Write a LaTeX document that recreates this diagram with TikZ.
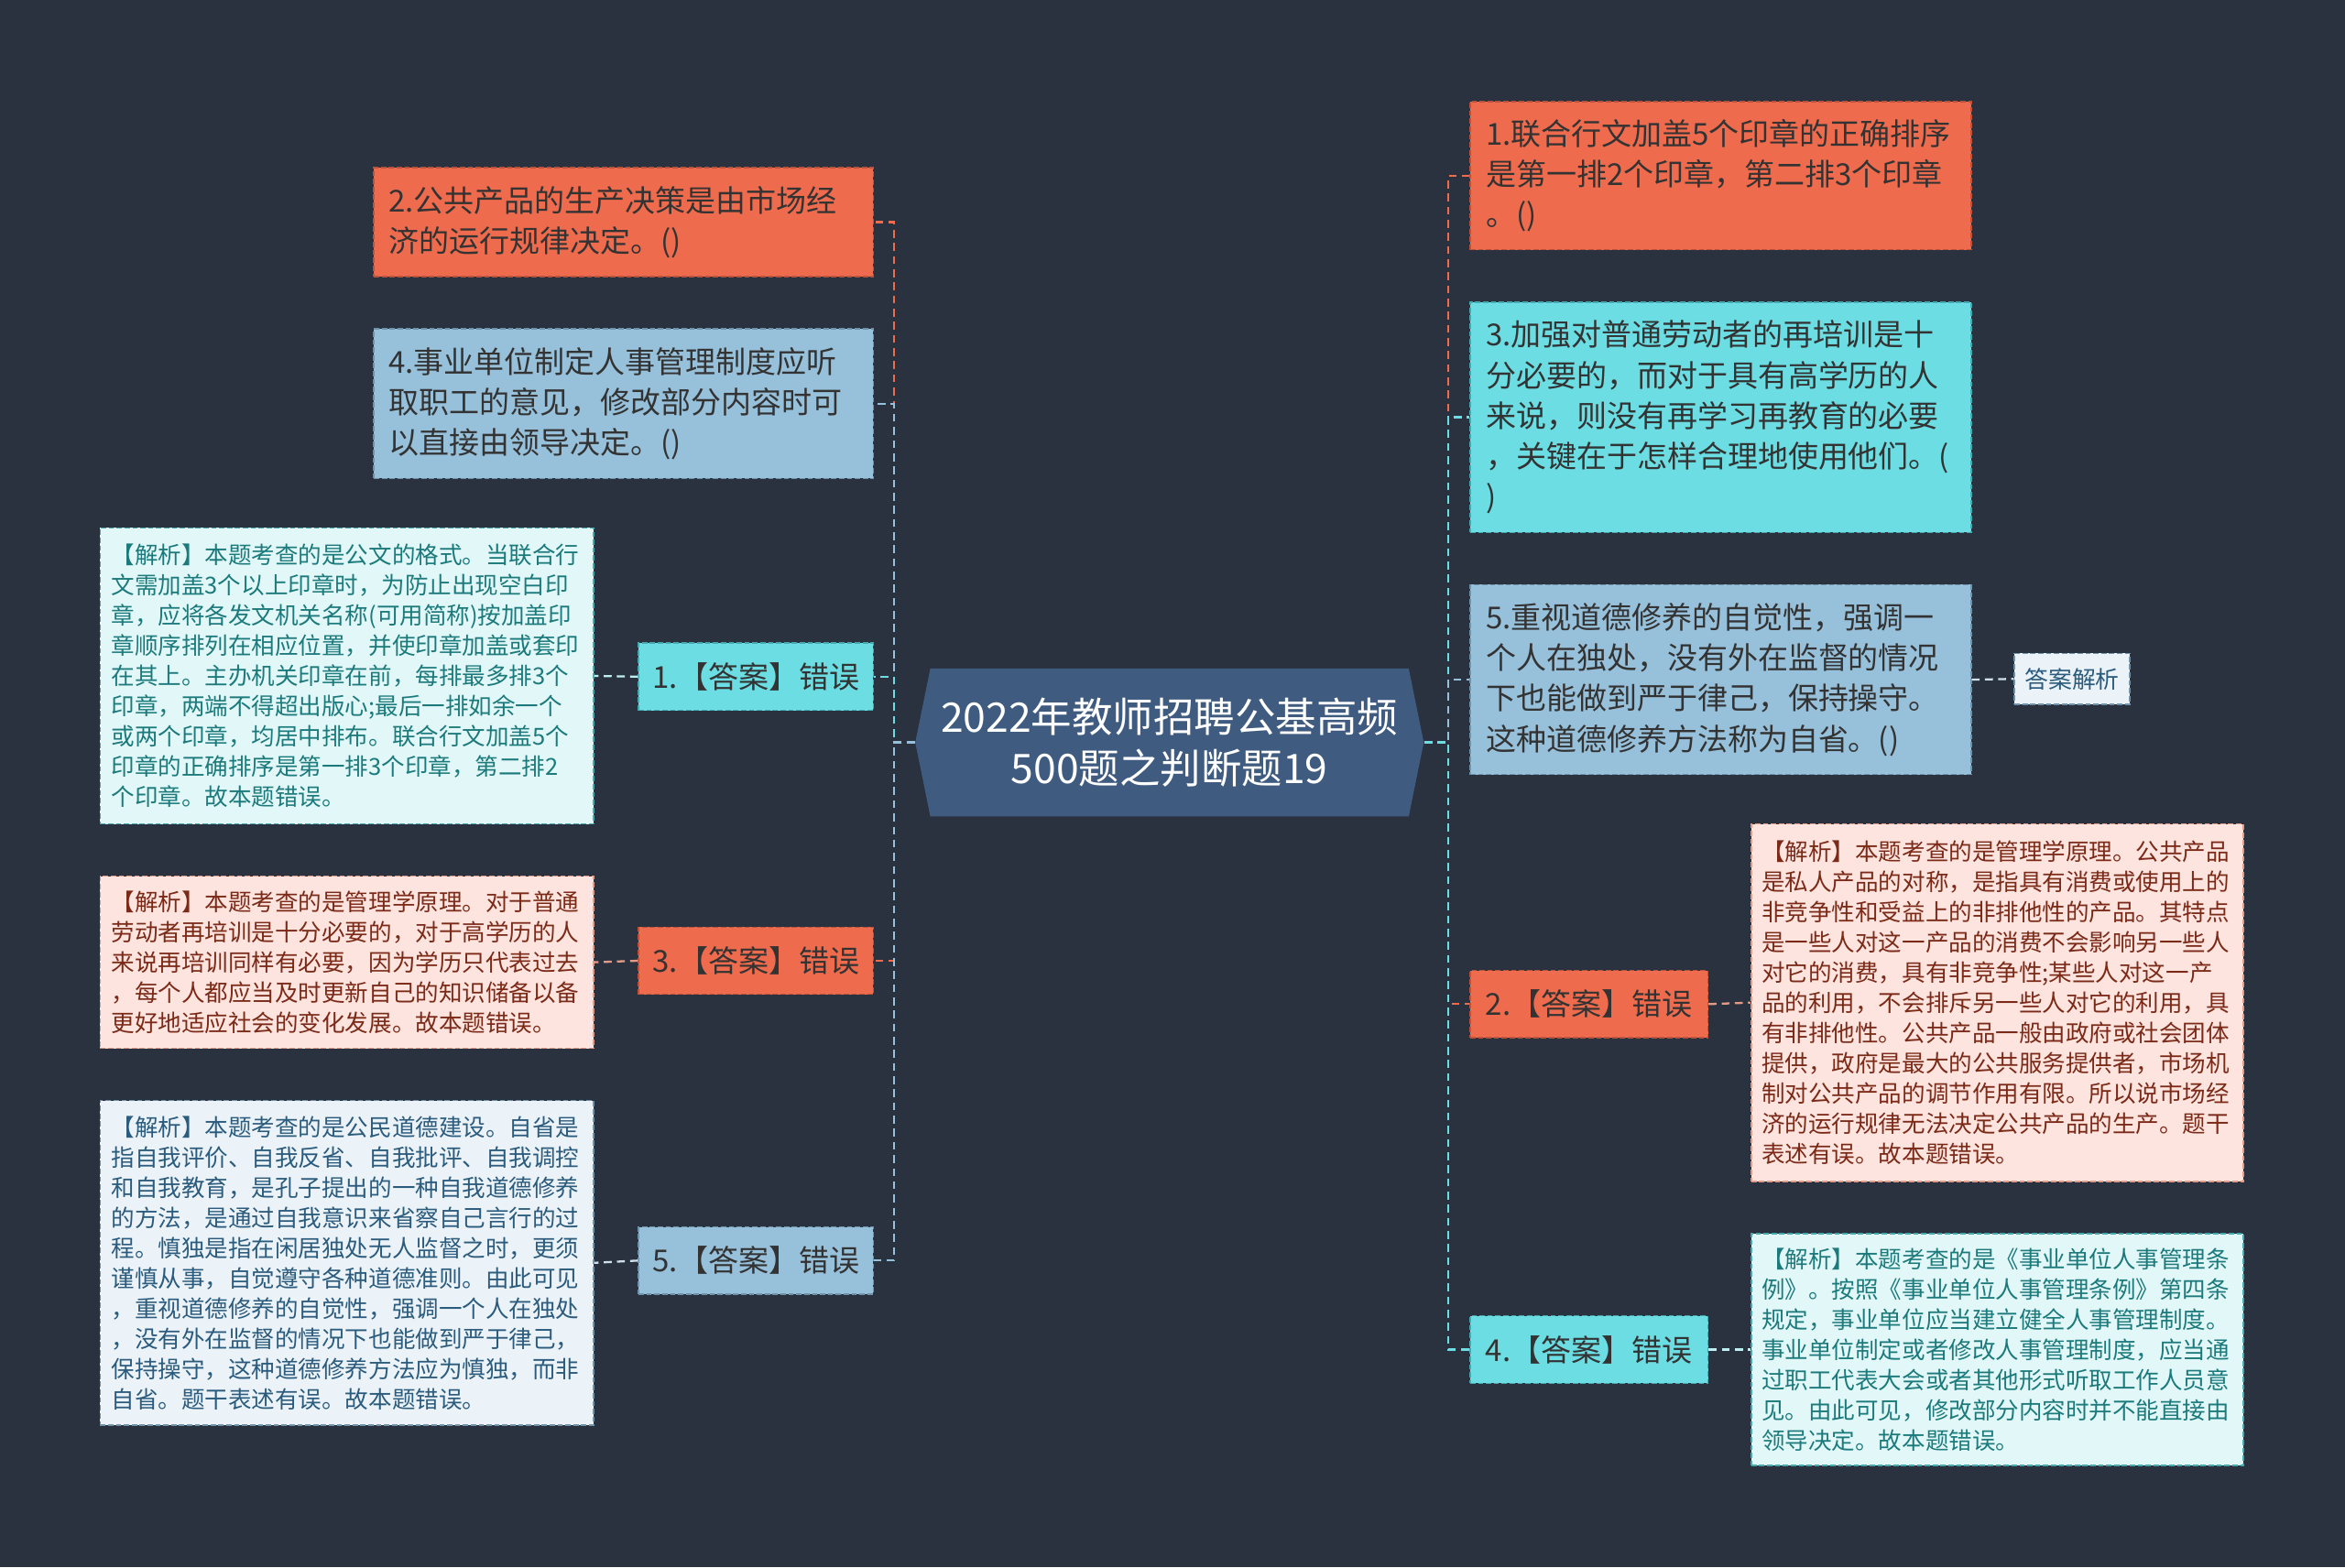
\documentclass[tikz,border=0pt]{standalone}
\usepackage{fontspec}
\setmainfont{Noto Sans CJK SC}
\usetikzlibrary{shapes.symbols}

\definecolor{bgcol}{HTML}{2A3240}
\definecolor{cOrange}{HTML}{EF6B4D}
\definecolor{dOrange}{HTML}{B9533C}
\definecolor{cCyan}{HTML}{6BDDE3}
\definecolor{dCyan}{HTML}{45A9B0}
\definecolor{cBlue}{HTML}{97C0DA}
\definecolor{dBlue}{HTML}{6F93AB}
\definecolor{cCenter}{HTML}{3F5C80}
\definecolor{xPink}{HTML}{FDE4DF}
\definecolor{xCyan}{HTML}{E2F8F8}
\definecolor{xBlue}{HTML}{EBF3F8}
\definecolor{tPink}{HTML}{7B2A18}
\definecolor{tCyan}{HTML}{1C7A7C}
\definecolor{tBlue}{HTML}{2B5B7D}
\definecolor{qtext}{HTML}{333333}
\definecolor{lPink}{HTML}{E39A86}
\definecolor{lCyan}{HTML}{BDEFF2}
\definecolor{lBlue}{HTML}{CFE0EC}

\tikzset{
  box/.style = {line width = 0.5pt, dash pattern = on 2pt off 1pt, inner sep = 0pt},
  qbox/.style = {box, minimum width = 66.8mm, text width = 62.8mm, align = left, text = qtext, font = \fontsize{11.5pt}{15.4pt}\selectfont},
  abox/.style = {box, minimum width = 31.4mm, minimum height = 9mm, align = center, text = qtext, font = \fontsize{11.5pt}{15.4pt}\selectfont},
  xbox/.style = {box, minimum width = 66mm, text width = 63mm, align = left, font = \fontsize{8.9pt}{11.5pt}\selectfont},
  ctrbox/.style = {shape = signal, signal to = west and east, signal pointer angle = 157, fill = cCenter, inner sep = 0pt, minimum width = 68mm, minimum height = 19.8mm, align = center, text = white, font = \fontsize{15.5pt}{19.4pt}\selectfont},
  lnk/.style = {line width = 0.8pt, dash pattern = on 3pt off 2pt}
}

\begin{document}
\begin{tikzpicture}[x = 0.2mm, y = -0.2mm]
\useasboundingbox[fill = bgcol] (0,0) rectangle (1568,1048);

\node[ctrbox] (ctr) at (782,496.5) {2022年教师招聘公基高频\\500题之判断题19};

\node[qbox, fill = cOrange, draw = dOrange, minimum height = 14.6mm] (l2) at (417,148.5) {2.公共产品的生产决策是由市场经\\济的运行规律决定。()};
\node[qbox, fill = cBlue, draw = dBlue, minimum height = 20mm] (l4) at (417,270) {4.事业单位制定人事管理制度应听\\取职工的意见，修改部分内容时可\\以直接由领导决定。()};
\node[abox, fill = cCyan, draw = dCyan] (l1a) at (505.5,452.5) {1.【答案】错误};
\node[abox, fill = cOrange, draw = dOrange] (l3a) at (505.5,642.5) {3.【答案】错误};
\node[abox, fill = cBlue, draw = dBlue] (l5a) at (505.5,843) {5.【答案】错误};

\node[xbox, fill = xCyan, draw = dCyan, text = tCyan, minimum height = 39.6mm] (l1x) at (232,452) {【解析】本题考查的是公文的格式。当联合行\\文需加盖3个以上印章时，为防止出现空白印\\章，应将各发文机关名称(可用简称)按加盖印\\章顺序排列在相应位置，并使印章加盖或套印\\在其上。主办机关印章在前，每排最多排3个\\印章，两端不得超出版心;最后一排如余一个\\或两个印章，均居中排布。联合行文加盖5个\\印章的正确排序是第一排3个印章，第二排2\\个印章。故本题错误。};
\node[xbox, fill = xPink, draw = lPink, text = tPink, minimum height = 23mm] (l3x) at (232,643.5) {【解析】本题考查的是管理学原理。对于普通\\劳动者再培训是十分必要的，对于高学历的人\\来说再培训同样有必要，因为学历只代表过去\\，每个人都应当及时更新自己的知识储备以备\\更好地适应社会的变化发展。故本题错误。};
\node[xbox, fill = xBlue, draw = dBlue, text = tBlue, minimum height = 43.4mm] (l5x) at (232,844.5) {【解析】本题考查的是公民道德建设。自省是\\指自我评价、自我反省、自我批评、自我调控\\和自我教育，是孔子提出的一种自我道德修养\\的方法，是通过自我意识来省察自己言行的过\\程。慎独是指在闲居独处无人监督之时，更须\\谨慎从事，自觉遵守各种道德准则。由此可见\\，重视道德修养的自觉性，强调一个人在独处\\，没有外在监督的情况下也能做到严于律己，\\保持操守，这种道德修养方法应为慎独，而非\\自省。题干表述有误。故本题错误。};

\node[qbox, fill = cOrange, draw = dOrange, minimum width = 67mm, minimum height = 19.8mm] (r1) at (1150.5,117.5) {1.联合行文加盖5个印章的正确排序\\是第一排2个印章，第二排3个印章\\。()};
\node[qbox, fill = cCyan, draw = dCyan, minimum width = 67mm, minimum height = 30.8mm] (r3) at (1150.5,279) {3.加强对普通劳动者的再培训是十\\分必要的，而对于具有高学历的人\\来说，则没有再学习再教育的必要\\，关键在于怎样合理地使用他们。(\\)};
\node[qbox, fill = cBlue, draw = dBlue, minimum width = 67mm, minimum height = 25.4mm] (r5) at (1150.5,454.5) {5.重视道德修养的自觉性，强调一\\个人在独处，没有外在监督的情况\\下也能做到严于律己，保持操守。\\这种道德修养方法称为自省。()};
\node[box, fill = xBlue, draw = dBlue, text = tBlue, minimum width = 15.4mm, minimum height = 6.8mm, font = \fontsize{9pt}{11pt}\selectfont] (r5x) at (1385.5,454) {答案解析};
\node[abox, fill = cOrange, draw = dOrange, minimum width = 31.8mm] (r2a) at (1062.5,671.5) {2.【答案】错误};
\node[abox, fill = cCyan, draw = dCyan, minimum width = 31.8mm] (r4a) at (1062.5,902.5) {4.【答案】错误};

\node[xbox, fill = xPink, draw = lPink, text = tPink, minimum width = 65.8mm, minimum height = 47.8mm] (r2x) at (1335.5,670.5) {【解析】本题考查的是管理学原理。公共产品\\是私人产品的对称，是指具有消费或使用上的\\非竞争性和受益上的非排他性的产品。其特点\\是一些人对这一产品的消费不会影响另一些人\\对它的消费，具有非竞争性;某些人对这一产\\品的利用，不会排斥另一些人对它的利用，具\\有非排他性。公共产品一般由政府或社会团体\\提供，政府是最大的公共服务提供者，市场机\\制对公共产品的调节作用有限。所以说市场经\\济的运行规律无法决定公共产品的生产。题干\\表述有误。故本题错误。};
\node[xbox, fill = xCyan, draw = dCyan, text = tCyan, minimum width = 65.8mm, minimum height = 31mm] (r4x) at (1335.5,902.5) {【解析】本题考查的是《事业单位人事管理条\\例》。按照《事业单位人事管理条例》第四条\\规定，事业单位应当建立健全人事管理制度。\\事业单位制定或者修改人事管理制度，应当通\\过职工代表大会或者其他形式听取工作人员意\\见。由此可见，修改部分内容时并不能直接由\\领导决定。故本题错误。};

\foreach \n/\c in {l2/cOrange, l4/cBlue, l1a/cCyan, l3a/cOrange, l5a/cBlue}
  \draw[lnk, draw = \c] (ctr.west) -- ++(-14,0) |- (\n.east);
\foreach \n/\c in {r1/cOrange, r3/cCyan, r5/cBlue, r2a/cOrange, r4a/cCyan}
  \draw[lnk, draw = \c] (ctr.east) -- ++(16,0) |- (\n.west);

\draw[lnk, draw = lCyan] (l1a.west) -- (l1x.east);
\draw[lnk, draw = lPink] (l3a.west) -- (l3x.east);
\draw[lnk, draw = lBlue] (l5a.west) -- (l5x.east);
\draw[lnk, draw = lBlue] (r5.east) -- (r5x.west);
\draw[lnk, draw = lPink] (r2a.east) -- (r2x.west);
\draw[lnk, draw = lCyan] (r4a.east) -- (r4x.west);
\end{tikzpicture}
\end{document}
